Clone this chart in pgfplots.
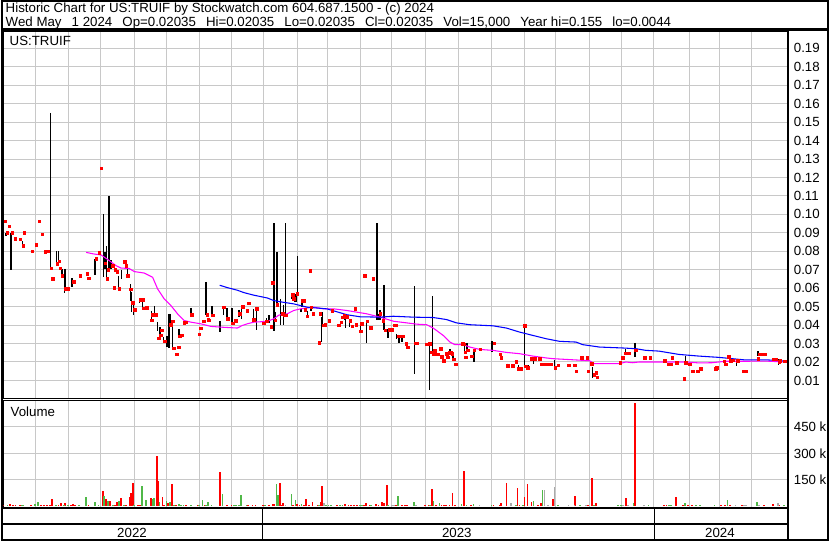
\documentclass[border=0pt]{standalone}
\usepackage{pgfplots}
\usepackage{pgfplotstable}
\pgfplotsset{compat=1.18}
\usepackage{fontspec}
\setmainfont{Liberation Sans}
\definecolor{gridgray}{RGB}{200,200,200}
\definecolor{volgreen}{RGB}{80,184,72}
\definecolor{volgray}{RGB}{170,170,170}
\definecolor{mared}{RGB}{255,0,0}
\definecolor{mamag}{RGB}{255,0,255}
\definecolor{mablue}{RGB}{0,0,255}
\newcommand\swfont{\fontsize{10}{12}\selectfont}
\newcommand\dsp{\hspace{7.6pt}}

% price high-low bars (x in chart pixels, lo, hi)
\pgfplotstableread{
x lo hi
4.3 0.0885 0.0900
9.7 0.0700 0.0900
13.3 0.0858 0.0867
21.3 0.0830 0.0853
49.3 0.0710 0.1550
55.3 0.0730 0.0800
57.3 0.0747 0.0800
60.7 0.0668 0.0705
63.3 0.0573 0.0705
64.3 0.0596 0.0705
70.7 0.0605 0.0654
85.7 0.0668 0.0682
94.0 0.0673 0.0760
102.3 0.0660 0.1000
103.7 0.0704 0.0798
105.3 0.0650 0.0828
108.0 0.0704 0.1100
109.7 0.0704 0.0752
117.3 0.0594 0.0668
120.3 0.0650 0.0700
126.7 0.0668 0.0704
129.3 0.0533 0.0621
130.7 0.0470 0.0578
132.7 0.0452 0.0533
138.3 0.0517 0.0542
141.3 0.0495 0.0546
150.3 0.0423 0.0477
153.3 0.0466 0.0502
156.7 0.0367 0.0418
159.3 0.0340 0.0389
162.7 0.0312 0.0333
166.0 0.0281 0.0342
168.3 0.0276 0.0461
169.3 0.0402 0.0461
171.7 0.0281 0.0398
178.3 0.0335 0.0380
190.3 0.0457 0.0493
205.3 0.0452 0.0634
207.7 0.0423 0.0441
211.3 0.0452 0.0502
219.3 0.0362 0.0423
222.7 0.0452 0.0500
226.3 0.0434 0.0491
231.3 0.0407 0.0491
238.3 0.0443 0.0483
240.7 0.0434 0.0488
252.7 0.0425 0.0488
255.7 0.0371 0.0491
265.7 0.0420 0.0436
268.7 0.0412 0.0454
273.3 0.0367 0.0952
274.7 0.0420 0.0470
276.3 0.0506 0.0794
280.0 0.0398 0.0542
283.0 0.0398 0.0510
285.0 0.0452 0.0952
291.7 0.0542 0.0573
294.0 0.0524 0.0573
295.7 0.0524 0.0566
297.3 0.0560 0.0772
300.7 0.0470 0.0488
301.7 0.0497 0.0533
307.3 0.0443 0.0479
310.7 0.0479 0.0497
321.3 0.0308 0.0443
322.3 0.0398 0.0470
344.0 0.0425 0.0452
345.3 0.0384 0.0452
349.0 0.0389 0.0430
360.3 0.0358 0.0407
366.3 0.0304 0.0416
376.7 0.0430 0.0952
378.0 0.0430 0.0461
380.0 0.0430 0.0482
384.0 0.0371 0.0618
387.7 0.0330 0.0380
396.7 0.0326 0.0353
398.3 0.0301 0.0348
399.3 0.0303 0.0340
402.0 0.0306 0.0344
414.3 0.0133 0.0610
429.3 0.0047 0.0303
432.3 0.0250 0.0556
450.3 0.0236 0.0268
453.0 0.0214 0.0250
464.7 0.0245 0.0301
467.3 0.0263 0.0303
474.3 0.0200 0.0272
492.3 0.0254 0.0315
507.7 0.0178 0.0191
512.7 0.0177 0.0189
518.7 0.0160 0.0182
524.7 0.0173 0.0398
528.3 0.0160 0.0182
534.0 0.0191 0.0218
555.0 0.0159 0.0209
593.3 0.0114 0.0173
626.0 0.0243 0.0272
636.0 0.0225 0.0303
650.3 0.0218 0.0232
686.7 0.0195 0.0231
737.7 0.0177 0.0214
759.3 0.0232 0.0259
780.0 0.0186 0.0214
}\hilo

% closing prices (red marks)
\pgfplotstableread{
x cl
1.7 0.1000
4.0 0.0962
7.7 0.0936
6.0 0.0900
10.7 0.0900
14.0 0.0867
19.0 0.0866
22.7 0.0900
22.0 0.0830
30.7 0.0801
34.7 0.0834
37.7 0.0963
40.7 0.0893
43.7 0.0796
46.7 0.0801
50.0 0.0708
51.7 0.0650
56.0 0.0733
58.0 0.0747
59.0 0.0709
61.0 0.0668
64.3 0.0596
66.7 0.0596
72.7 0.0636
79.0 0.0668
86.0 0.0677
87.7 0.0655
95.0 0.0760
98.0 0.0792
100.0 0.1249
104.3 0.0736
106.0 0.0650
107.0 0.0700
111.0 0.0722
112.3 0.0722
113.0 0.0601
114.3 0.0700
116.0 0.0690
118.0 0.0598
123.7 0.0742
125.0 0.0722
126.7 0.0668
130.0 0.0594
131.7 0.0522
133.7 0.0484
140.0 0.0538
142.0 0.0538
143.0 0.0490
145.7 0.0495
151.0 0.0425
152.0 0.0456
155.0 0.0456
158.0 0.0328
160.0 0.0344
161.0 0.0371
164.0 0.0312
170.0 0.0403
172.0 0.0420
173.0 0.0274
175.7 0.0241
177.7 0.0279
179.0 0.0339
180.7 0.0344
183.3 0.0412
184.7 0.0416
191.0 0.0457
198.7 0.0349
200.0 0.0382
203.0 0.0420
206.3 0.0457
207.7 0.0429
208.7 0.0427
212.0 0.0452
223.3 0.0497
227.0 0.0434
232.0 0.0409
235.0 0.0423
239.3 0.0461
242.0 0.0499
246.7 0.0477
248.0 0.0517
253.3 0.0430
256.0 0.0488
263.0 0.0409
266.3 0.0420
270.7 0.0391
272.0 0.0628
274.7 0.0425
277.0 0.0510
282.3 0.0461
284.0 0.0452
285.7 0.0452
292.3 0.0565
293.3 0.0542
296.7 0.0569
301.7 0.0533
303.7 0.0533
305.0 0.0483
306.7 0.0448
310.0 0.0695
311.0 0.0497
312.7 0.0461
319.0 0.0304
320.0 0.0461
323.3 0.0398
325.0 0.0402
329.0 0.0423
332.0 0.0477
338.7 0.0398
341.0 0.0416
342.7 0.0443
344.0 0.0452
346.3 0.0445
347.0 0.0443
350.0 0.0423
352.0 0.0393
355.0 0.0488
356.0 0.0402
360.7 0.0366
361.7 0.0407
364.7 0.0666
367.3 0.0420
370.7 0.0385
373.0 0.0650
380.0 0.0461
383.3 0.0423
385.3 0.0373
389.0 0.0376
392.0 0.0376
394.3 0.0398
396.0 0.0398
398.0 0.0340
400.0 0.0340
402.7 0.0340
406.0 0.0299
408.0 0.0281
416.0 0.0301
417.0 0.0301
427.0 0.0295
430.0 0.0299
432.0 0.0252
433.7 0.0245
435.0 0.0261
438.0 0.0241
441.0 0.0272
442.0 0.0229
443.7 0.0207
446.7 0.0245
447.7 0.0225
449.7 0.0250
451.3 0.0250
452.3 0.0245
454.0 0.0214
456.0 0.0187
463.0 0.0299
464.0 0.0297
465.3 0.0252
465.7 0.0225
468.0 0.0263
472.0 0.0230
474.3 0.0263
480.7 0.0270
494.7 0.0301
500.7 0.0241
501.7 0.0223
508.3 0.0180
513.0 0.0180
516.7 0.0200
518.7 0.0164
520.0 0.0164
521.3 0.0164
525.0 0.0396
526.0 0.0178
528.3 0.0168
532.3 0.0218
534.0 0.0218
535.3 0.0218
540.0 0.0218
541.7 0.0187
543.3 0.0187
545.0 0.0187
546.7 0.0187
548.3 0.0187
550.0 0.0187
551.7 0.0187
555.7 0.0168
558.7 0.0182
569.3 0.0182
575.3 0.0182
576.7 0.0150
582.3 0.0223
587.7 0.0223
589.0 0.0150
592.3 0.0191
595.0 0.0132
596.7 0.0142
598.0 0.0117
621.0 0.0195
623.3 0.0223
626.0 0.0247
628.0 0.0247
630.0 0.0247
636.7 0.0263
645.7 0.0223
651.0 0.0223
665.7 0.0207
669.0 0.0187
672.0 0.0187
673.3 0.0223
677.7 0.0195
685.0 0.0110
687.0 0.0195
690.7 0.0187
694.0 0.0150
698.7 0.0150
702.0 0.0164
716.7 0.0164
717.7 0.0169
725.3 0.0204
726.7 0.0187
730.0 0.0227
732.0 0.0207
734.3 0.0209
738.7 0.0207
745.0 0.0150
747.3 0.0150
759.3 0.0218
761.0 0.0241
762.7 0.0241
766.0 0.0241
775.0 0.0214
777.3 0.0214
780.7 0.0200
781.7 0.0207
786.0 0.0204
}\closes

% short moving average (magenta)
\pgfplotstableread{
x ma
85 0.0794
92 0.0786
100 0.0780
106.7 0.0755
115 0.0722
120 0.0709
128 0.0707
133.3 0.0690
143.3 0.0682
151.7 0.0659
156.7 0.0596
163.3 0.0542
170 0.0506
176.7 0.0461
183.3 0.0425
190 0.0416
200 0.0407
210 0.0393
220 0.0389
233.3 0.0385
236.7 0.0384
241.7 0.0398
246.7 0.0407
253.3 0.0416
266.7 0.0420
273.3 0.0434
278.3 0.0454
286.7 0.0461
293.3 0.0479
300 0.0488
313.3 0.0497
323.3 0.0488
333.3 0.0488
346.7 0.0479
356.7 0.0470
366.7 0.0461
380 0.0443
393.3 0.0421
406.7 0.0412
416.7 0.0405
426.7 0.0402
433.3 0.0384
443.3 0.0344
450 0.0308
455 0.0294
463.3 0.0294
470 0.0281
480 0.0268
493.3 0.0263
506.7 0.0252
520 0.0245
533.3 0.0232
546.7 0.0222
553.3 0.0218
566.7 0.0214
590 0.0207
595 0.0191
620 0.0191
626.7 0.0200
633 0.0196
640 0.0200
686.7 0.0200
700 0.0195
713 0.0196
726.7 0.0204
746.7 0.0204
766.7 0.0205
786.7 0.0200
}\mashort

% long moving average (blue)
\pgfplotstableread{
x ma
219 0.0616
226.7 0.0603
236.7 0.0589
243.3 0.0576
253.3 0.0562
266.7 0.0547
273.3 0.0533
280 0.0526
293.3 0.0515
306.7 0.0497
326.7 0.0488
346.7 0.0456
360 0.0445
380 0.0443
393.3 0.0448
413.3 0.0443
433.3 0.0441
446.7 0.0430
456.7 0.0412
470 0.0402
493.3 0.0396
506.7 0.0384
520 0.0362
533.3 0.0344
546.7 0.0326
560 0.0312
576.7 0.0308
583.3 0.0294
600 0.0281
623.3 0.0276
636.7 0.0272
646.7 0.0263
660 0.0259
680 0.0241
700 0.0232
720 0.0225
733.3 0.0218
746.7 0.0211
770 0.0211
786.7 0.0205
}\malong

% volume, down days (red)
\pgfplotstableread{
x v
1.7 4000
8.3 11500
11.7 4000
14 4000
18.3 4000
29.3 4000
39.3 4000
42.7 4000
45.7 4000
48.7 5800
50.7 40300
57.3 4000
60 17300
64 17300
70 5800
71.7 11500
74 4000
87.3 4000
101.7 86400
105 40300
109 30700
113.7 4000
116 23000
119.7 46000
125.3 4000
129 51800
130.3 74900
132 132500
137.3 4000
139.3 4000
141.3 4000
150 46000
156 282000
157.3 144000
161.7 51800
163.3 4000
167.3 17300
171.3 126700
175.3 4000
185.3 4000
196.7 4000
204 4000
219 195800
226 4000
230.7 4000
247.3 4000
252 4000
255 4000
262.7 4000
268.3 4000
272.3 11500
274 11500
279.7 132500
281 4000
282.7 17300
292.3 4000
296.7 11500
299 4000
303.3 4000
305.7 40300
308.7 4000
312 23000
317.3 4000
320.7 23000
321.7 115200
336.7 4000
345 11500
348.3 4000
350.7 4000
353.7 4000
356.7 4000
363.7 4000
365.7 17300
369.7 4000
375.7 11500
378.3 4000
381.7 23000
384 17300
386.7 121000
396 5800
401.7 5800
405 4000
406.7 4000
425.3 4000
428.7 4000
431.7 97900
436.3 4000
441.7 4000
444 4000
446.3 4000
449.7 4000
452.7 74900
455 4000
464.3 201600
471 4000
493.7 4000
499.7 4000
501 17300
506.7 132500
518 103700
520 4000
525 51800
528 126700
532 23000
538.3 4000
541.7 17300
553.3 40300
575.7 57600
588.3 4000
592.7 161300
597 17300
626.7 46000
635.7 585000
664.7 4000
667.3 4000
676.7 51800
684 4000
689.3 4000
693.3 4000
722.3 4000
726 5800
731.3 4000
743.3 4000
765 4000
774 11500
780 5800
}\voldown

% volume, up days (green)
\pgfplotstableread{
x v
6 4000
20.7 5800
21.7 5800
33.3 11500
36.7 23000
55 4000
62.7 4000
66.7 4000
78 4000
85 51800
94 21100
97.3 4000
103 57600
106.7 30700
111.7 4000
117.7 28800
122.7 5800
133.3 4000
141 115200
145 34600
151.7 42200
153 46000
158.7 21100
165.7 28800
169.3 21100
173.3 4000
178 11500
180 4000
182.7 5800
190 4000
198.3 4000
201.7 34600
205 5800
207.3 23000
210.7 4000
221.7 69100
233.3 4000
235 4000
238.3 4000
240.7 63400
246 4000
264.7 4000
276 126700
277.3 63400
291 69100
295 34600
301 11500
319 4000
325.7 4000
328.3 4000
331 4000
340 4000
342.3 4000
360 4000
361.7 4000
371 4000
387.7 4000
398.3 57600
413.7 23000
430 4000
433.7 28800
439.7 17300
461.7 11500
466.7 5800
473.7 11500
491.7 4000
516 4000
523.3 4000
534 28800
543 92200
558.3 5800
580.7 4000
595 4000
619 4000
621.7 4000
634.3 17300
649.3 4000
670 4000
671.7 4000
685.7 17300
696.7 4000
700.7 4000
715.7 4000
728.7 34600
758.3 23000
785 5800
}\volup

% volume, unchanged days (gray)
\pgfplotstableread{
x v
285 4000
324 17300
391.7 4000
393.7 4000
415.7 4000
479.7 4000
511.7 17300
545 92200
548.3 4000
555 109400
569 4000
575 4000
586.7 4000
624 4000
628.7 4000
645 4000
736.7 4000
745 4000
747 4000
760 4000
779 17300
}\volflat

\pgfplotsset{
  panel/.style={
    scale only axis, xmin=2, xmax=789,
    axis line style={black, line width=0.75pt},
    xtick={34.3,67.3,99.3,133.3,165.3,198.7,231.3,262.7,297.3,327.3,360.3,391.7,426,458.7,492,525.3,556,590.5,622.5,654.7,690,720.7,752.8},
    xticklabels={},
    grid=major, grid style={gridgray, line width=0.75pt},
    major tick length=0pt,
    yticklabel pos=right,
    ticklabel style={font=\swfont},
    yticklabel style={anchor=west, inner sep=0pt, xshift=4.5pt},
  }
}

\begin{document}
\begin{tikzpicture}[x=0.75pt,y=0.75pt]
\fill[white] (0,0) rectangle (830,543);

% price panel
\begin{axis}[panel, at={(1.5pt,107.475pt)}, anchor=south west,
  width=590.25pt, height=275.78pt,
  ymin=0.00035, ymax=0.1989,
  ytick={0.01,0.02,0.03,0.04,0.05,0.06,0.07,0.08,0.09,0.10,0.11,0.12,0.13,0.14,0.15,0.16,0.17,0.18,0.19},
  yticklabel style={/pgf/number format/.cd, fixed, fixed zerofill, precision=2, assume math mode=true}]
\addplot[no markers, draw=none,
  error bars/.cd, y dir=minus, y explicit, error mark=none,
  error bar style={draw=black, line width=1.1pt}]
  table[x=x, y=hi, y error minus expr={\thisrow{hi}-\thisrow{lo}}] {\hilo};
\addplot[only marks, mark=square*, mark size=0.95pt, mared,
  mark options={draw=none, fill=mared}] table[x=x, y=cl] {\closes};
\addplot[mamag, line width=0.8pt] table[x=x, y=ma] {\mashort};
\addplot[mablue, line width=0.8pt] table[x=x, y=ma] {\malong};
\end{axis}

% volume panel
\begin{axis}[panel, at={(1.5pt,25.5pt)}, anchor=south west,
  width=590.25pt, height=80.25pt,
  ymin=-5650, ymax=598900,
  scaled y ticks=false,
  ytick={150000,300000,450000},
  yticklabels={150 k,300 k,450 k}]
\addplot[ycomb, mared, line width=1.3pt] table[x=x, y=v] {\voldown};
\addplot[ycomb, volgreen, line width=1.3pt] table[x=x, y=v] {\volup};
\addplot[ycomb, volgray, line width=1.3pt] table[x=x, y=v] {\volflat};
\end{axis}

% frames and rows
\draw[line width=1.5pt] (0,33.5) -- (789,33.5);
\draw[line width=1.5pt] (0,17) -- (789,17);
\draw[line width=0.75pt] (262,33.5) -- (262,1);
\draw[line width=0.75pt] (655,33.5) -- (655,1);
\draw[line width=2.25pt] (0,513) -- (830,513);
\draw[line width=1.75pt] (789.5,513) -- (789.5,0);
\draw[line width=1.5pt] (1,1) rectangle (829,542);

% texts
\node[anchor=base west, inner sep=0pt, font=\swfont] at (4,530.5)
  {Historic Chart for US:TRUIF by Stockwatch.com 604.687.1500 - (c) 2024};
\node[anchor=base west, inner sep=0pt, font=\swfont] at (4,516.5)
  {Wed May\dsp 1 2024\dsp Op=0.02035\dsp Hi=0.02035\dsp Lo=0.02035\dsp Cl=0.02035\dsp Vol=15,000\dsp Year hi=0.155\dsp lo=0.0044};
\node[anchor=base west, inner sep=0pt, font=\swfont] at (8,497.5) {US:TRUIF};
\node[anchor=base west, inner sep=0pt, font=\swfont] at (9,125) {Volume};
\node[anchor=base, inner sep=0pt, font=\swfont] at (131,4) {2022};
\node[anchor=base, inner sep=0pt, font=\swfont] at (457,4) {2023};
\node[anchor=base, inner sep=0pt, font=\swfont] at (721,4) {2024};
\end{tikzpicture}
\end{document}
